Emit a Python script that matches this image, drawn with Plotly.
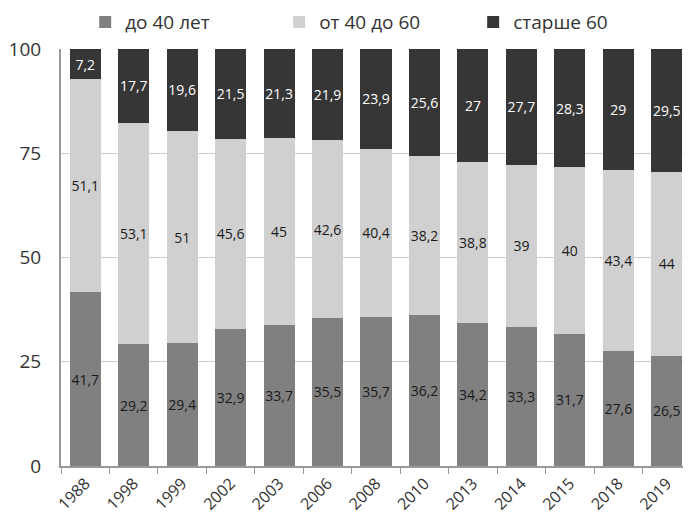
import plotly.graph_objects as go

years = ["1988", "1998", "1999", "2002", "2003", "2006", "2008", "2010", "2013", "2014", "2015", "2018", "2019"]
under40 = [41.7, 29.2, 29.4, 32.9, 33.7, 35.5, 35.7, 36.2, 34.2, 33.3, 31.7, 27.6, 26.5]
from40to60 = [51.1, 53.1, 51, 45.6, 45, 42.6, 40.4, 38.2, 38.8, 39, 40, 43.4, 44]
over60 = [7.2, 17.7, 19.6, 21.5, 21.3, 21.9, 23.9, 25.6, 27, 27.7, 28.3, 29, 29.5]
series_names = ["до 40 лет", "от 40 до 60", "старше 60"]
y_ticks = [0, 25, 50, 75, 100]


def fmt(v):
    return f"{v:g}".replace(".", ",")


fig = go.Figure()
for name, vals, color, tcolor in [
    (series_names[0], under40, "#808080", "#1a1a1a"),
    (series_names[1], from40to60, "#d0d0d0", "#1a1a1a"),
    (series_names[2], over60, "#363636", "#ffffff"),
]:
    fig.add_trace(go.Bar(
        x=years, y=vals, name=name,
        marker=dict(color=color, line=dict(width=0)),
        text=[fmt(v) for v in vals],
        textposition="inside", insidetextanchor="middle", textangle=0,
        constraintext="none",
        textfont=dict(size=14, color=tcolor, family="Open Sans"),
        hoverinfo="skip",
    ))

fig.update_layout(
    barmode="stack",
    bargap=0.36,
    width=683, height=506,
    margin=dict(l=53, r=0, t=41, b=48),
    paper_bgcolor="white", plot_bgcolor="white",
    font=dict(family="Open Sans", color="#333333"),
    legend=dict(orientation="h", xref="container", x=0.113, xanchor="left",
                yref="container", y=0.972, yanchor="middle",
                font=dict(size=19, color="#333333"),
                entrywidth=149, itemwidth=30, traceorder="normal"),
    xaxis=dict(type="category", tickangle=-45, tickfont=dict(size=16, color="#333333"),
               ticks="outside", tickson="boundaries", ticklen=6, tickcolor="#999999",
               showline=True, linecolor="#999999", linewidth=2, showgrid=False,
               automargin=False),
    yaxis=dict(range=[0, 100], tickvals=y_ticks, tickfont=dict(size=19, color="#333333"),
               showgrid=True, gridcolor="#cccccc", gridwidth=1,
               showline=True, linecolor="#999999", linewidth=2,
               ticks="", zeroline=False, ticklabelstandoff=14, automargin=False),
)
fig.write_html("out.html")
